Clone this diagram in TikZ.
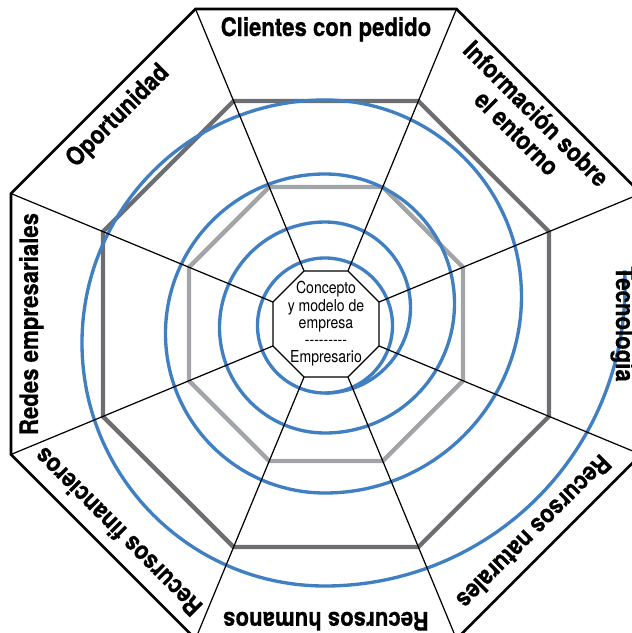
\documentclass[tikz,border=0pt]{standalone}
\usepackage{fontspec}
\setmainfont{TeX Gyre Heros}
\newfontfamily\lblfont[FakeStretch=0.87, BoldFeatures={FakeBold=0.5}]{TeX Gyre Heros}
\newfontfamily\corefont[FakeStretch=0.85]{TeX Gyre Heros}
\usetikzlibrary{calc}
\definecolor{spblue} {HTML}{3F7FC2}
\definecolor{spdark} {HTML}{6D6E71}
\definecolor{splight}{HTML}{A2A4A7}

\begin{document}
\begin{tikzpicture}[x=0.02cm, y=0.02cm,
    ring/.style={draw=spblue, line width=1.9pt},
    level/.style={line width=2.5pt, line join=miter},
    spoke/.style={draw=black, line width=0.7pt},
    rim/.style={draw=black, line width=1.5pt},
    factor/.style={font=\lblfont\fontsize{14.5}{15.6}\selectfont\bfseries,
      inner sep=0pt, anchor=base, align=center}]
  \useasboundingbox (-326,-309) rectangle (306,324);
  \clip (-326,-309) rectangle (306,324);
  % niveles
  \draw[level, draw=splight] (22.5:148.3)
    \foreach \a in {67.5,112.5,...,337.5} {-- (\a:148.3)} -- cycle;
  \draw[level, draw=spdark] (22.5:241.4)
    \foreach \a in {67.5,112.5,...,337.5} {-- (\a:241.4)} -- cycle;
  % espiral
  \draw[ring] (-1,-1.5) circle (67.5);
  \draw[ring] (-1,-69)
    arc[start angle=-90, end angle=90,  radius=85.5]
    arc[start angle=90,  end angle=270, radius=105.5]
    arc[start angle=-90, end angle=90,  radius=129.5]
    arc[start angle=90,  end angle=270, radius=159.5]
    arc[start angle=-90, end angle=90,  radius=196.5]
    arc[start angle=90,  end angle=270, radius=243]
    arc[start angle=-90, end angle=3,   radius=300];
  % radios
  \foreach \i in {0,...,7} {
    \coordinate (n\i) at (22.5+45*\i:57.4);
    \coordinate (o\i) at (22.5+45*\i:341);
    \draw[spoke] (n\i) -- (o\i);
  }
  \draw[spoke] (n0) -- (n1) -- (n2) -- (n3) -- (n4) -- (n5) -- (n6) -- (n7) -- cycle;
  \draw[rim] (o0) -- (o1) -- (o2) -- (o3) -- (o4) -- (o5) -- (o6) -- (o7) -- cycle;
  \node[font=\corefont\fontsize{9.4}{9.8}\selectfont, align=center, inner sep=0pt]
    (core) at (0,0) {Concepto\\y modelo de\\empresa\\-{}-{}-{}-{}-{}-{}-{}-{}-\\Empresario};
  % factores
  \node[factor] (clientes) at (90:288) {Clientes con pedido};
  \node[factor, rotate=-45] (info) at (45:261) {Información sobre\\el entorno};
  \node[factor, rotate=-90] (tecno) at (0:290) {Tecnología};
  \node[factor, rotate=-135] (naturales) at (-45:285) {Recursos naturales};
  \node[factor, rotate=180] (humanos) at (-90:288) {Recursos humanos};
  \node[factor, rotate=135] (financieros) at (-135:285) {Recursos financieros};
  \node[factor, rotate=90] (redes) at (180:288) {Redes empresariales};
  \node[factor, rotate=45] (oport) at (135:287) {Oportunidad};
\end{tikzpicture}
\end{document}
